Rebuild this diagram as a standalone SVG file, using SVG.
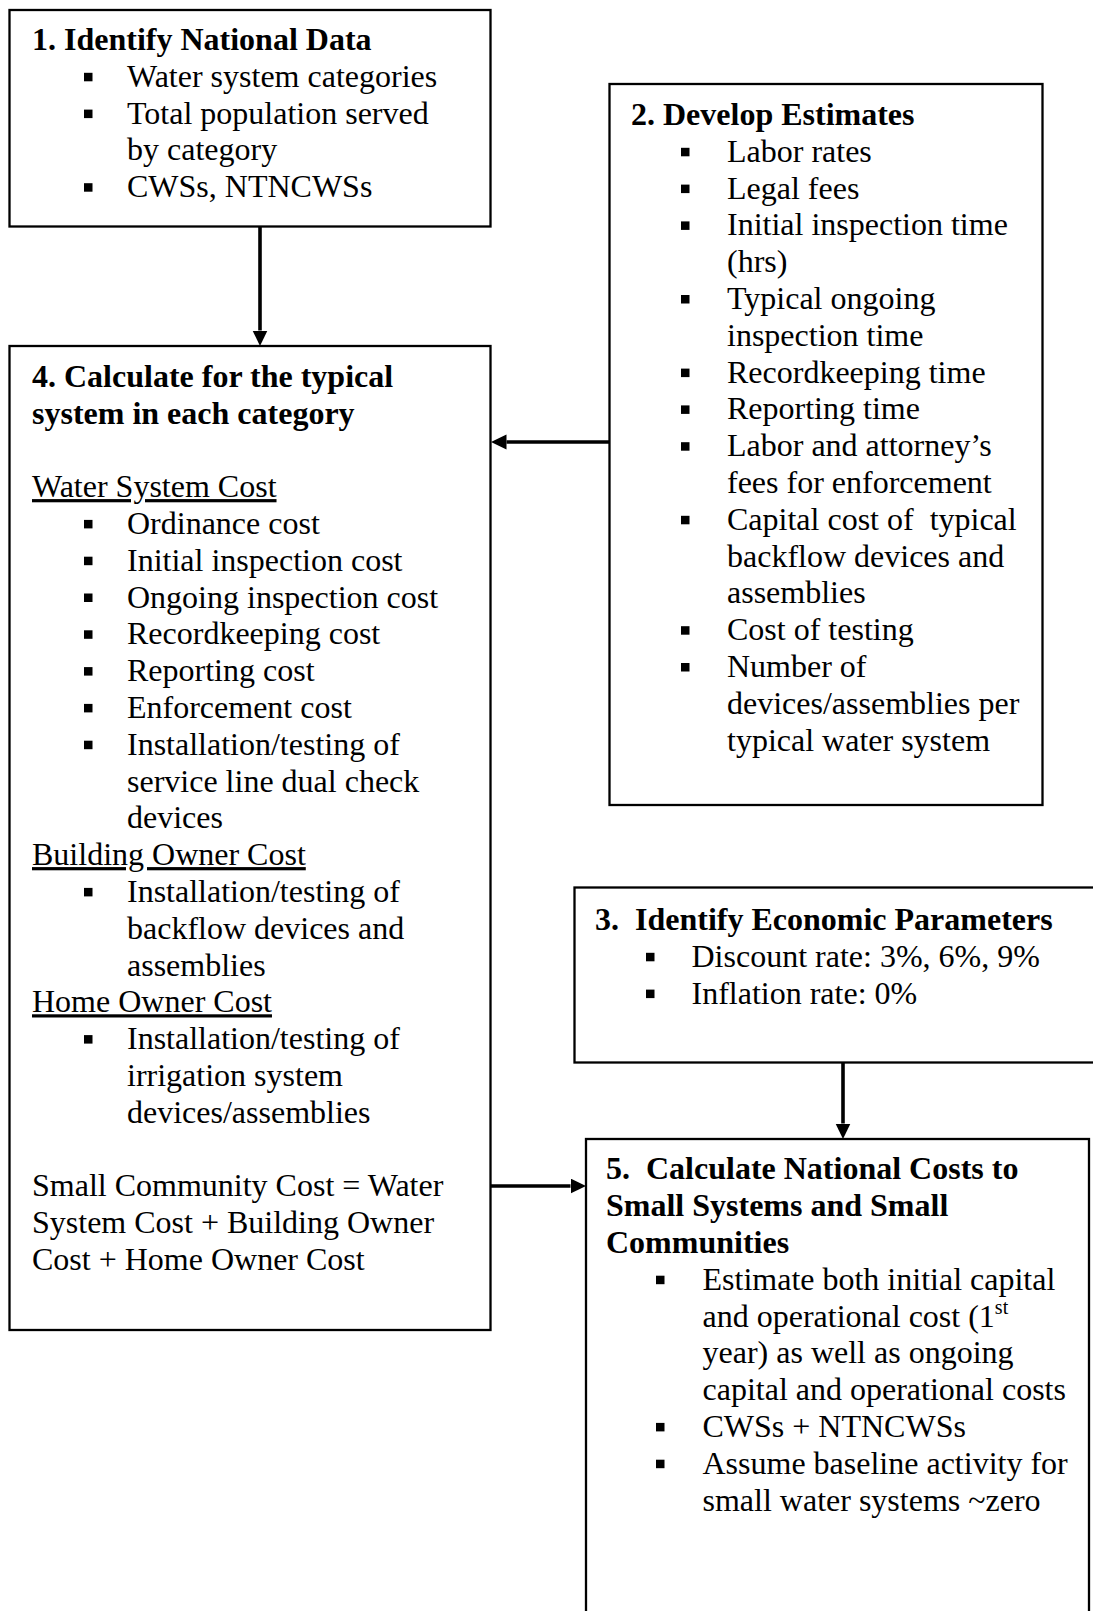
<svg xmlns="http://www.w3.org/2000/svg" width="1093" height="1611" viewBox="0 0 1093 1611">
<style>
text{font-family:"Liberation Serif","Times New Roman",serif;font-size:32px;fill:#000;white-space:pre}
.b{font-weight:bold}
.u{text-decoration:underline}
.box{fill:#fff;stroke:#000;stroke-width:2.3}
.conn{stroke:#000;stroke-width:3.6;fill:none}
</style>
<defs>
<marker id="ah" markerUnits="userSpaceOnUse" markerWidth="16" markerHeight="16" refX="0" refY="7.5" orient="auto">
<path d="M0,0 L15.5,7.5 L0,15 z" fill="#000"/>
</marker>
<symbol id="sq" overflow="visible"><rect x="0" y="-14" width="8.5" height="8.5"/></symbol>
</defs>
<rect width="1093" height="1611" fill="#fff"/>

<g id="connectors">
<line class="conn" x1="260" y1="227" x2="260" y2="330.5" marker-end="url(#ah)"/>
<line class="conn" x1="609" y1="442" x2="506.5" y2="442" marker-end="url(#ah)"/>
<line class="conn" x1="843" y1="1063" x2="843" y2="1123.5" marker-end="url(#ah)"/>
<line class="conn" x1="491" y1="1186" x2="570.5" y2="1186" marker-end="url(#ah)"/>
</g>

<g id="node1">
<rect class="box" x="9.5" y="10" width="481" height="216.5"/>
<text class="b" x="32" y="50">1. Identify National Data</text>
<use href="#sq" x="84" y="86.8"/><text x="127" y="86.8">Water system categories</text>
<use href="#sq" x="84" y="123.6"/><text x="127" y="123.6">Total population served</text>
<text x="127" y="160.4">by category</text>
<use href="#sq" x="84" y="197.2"/><text x="127" y="197.2">CWSs, NTNCWSs</text>
</g>

<g id="node2">
<rect class="box" x="609.5" y="84" width="433" height="721"/>
<text class="b" x="631" y="125">2. Develop Estimates</text>
<use href="#sq" x="681" y="161.8"/><text x="727" y="161.8">Labor rates</text>
<use href="#sq" x="681" y="198.6"/><text x="727" y="198.6">Legal fees</text>
<use href="#sq" x="681" y="235.4"/><text x="727" y="235.4">Initial inspection time</text>
<text x="727" y="272.2">(hrs)</text>
<use href="#sq" x="681" y="309"/><text x="727" y="309">Typical ongoing</text>
<text x="727" y="345.8">inspection time</text>
<use href="#sq" x="681" y="382.6"/><text x="727" y="382.6">Recordkeeping time</text>
<use href="#sq" x="681" y="419.4"/><text x="727" y="419.4">Reporting time</text>
<use href="#sq" x="681" y="456.2"/><text x="727" y="456.2">Labor and attorney’s</text>
<text x="727" y="493">fees for enforcement</text>
<use href="#sq" x="681" y="529.8"/><text x="727" y="529.8">Capital cost of  typical</text>
<text x="727" y="566.6">backflow devices and</text>
<text x="727" y="603.4">assemblies</text>
<use href="#sq" x="681" y="640.2"/><text x="727" y="640.2">Cost of testing</text>
<use href="#sq" x="681" y="677"/><text x="727" y="677">Number of</text>
<text x="727" y="713.8">devices/assemblies per</text>
<text x="727" y="750.6">typical water system</text>
</g>

<g id="node3">
<rect class="box" x="574.5" y="887.5" width="540" height="175"/>
<text class="b" x="595" y="930">3.  Identify Economic Parameters</text>
<use href="#sq" x="646" y="966.8"/><text x="691.5" y="966.8">Discount rate: 3%, 6%, 9%</text>
<use href="#sq" x="646" y="1003.6"/><text x="691.5" y="1003.6">Inflation rate: 0%</text>
</g>

<g id="node4">
<rect class="box" x="9.5" y="346" width="481" height="984"/>
<text class="b" x="32" y="386.7">4. Calculate for the typical</text>
<text class="b" x="32" y="423.5">system in each category</text>
<text class="u" x="32" y="497.1">Water System Cost</text>
<use href="#sq" x="84" y="533.9"/><text x="127" y="533.9">Ordinance cost</text>
<use href="#sq" x="84" y="570.7"/><text x="127" y="570.7">Initial inspection cost</text>
<use href="#sq" x="84" y="607.5"/><text x="127" y="607.5">Ongoing inspection cost</text>
<use href="#sq" x="84" y="644.3"/><text x="127" y="644.3">Recordkeeping cost</text>
<use href="#sq" x="84" y="681.1"/><text x="127" y="681.1">Reporting cost</text>
<use href="#sq" x="84" y="717.9"/><text x="127" y="717.9">Enforcement cost</text>
<use href="#sq" x="84" y="754.7"/><text x="127" y="754.7">Installation/testing of</text>
<text x="127" y="791.5">service line dual check</text>
<text x="127" y="828.3">devices</text>
<text class="u" x="32" y="865.1">Building Owner Cost</text>
<use href="#sq" x="84" y="901.9"/><text x="127" y="901.9">Installation/testing of</text>
<text x="127" y="938.7">backflow devices and</text>
<text x="127" y="975.5">assemblies</text>
<text class="u" x="32" y="1012.3">Home Owner Cost</text>
<use href="#sq" x="84" y="1049.1"/><text x="127" y="1049.1">Installation/testing of</text>
<text x="127" y="1085.9">irrigation system</text>
<text x="127" y="1122.7">devices/assemblies</text>
<text x="32" y="1196.3">Small Community Cost = Water</text>
<text x="32" y="1233.1">System Cost + Building Owner</text>
<text x="32" y="1269.9">Cost + Home Owner Cost</text>
</g>

<g id="node5">
<rect class="box" x="586" y="1139" width="503" height="490"/>
<text class="b" x="606" y="1179.3">5.  Calculate National Costs to</text>
<text class="b" x="606" y="1216.1">Small Systems and Small</text>
<text class="b" x="606" y="1252.9">Communities</text>
<use href="#sq" x="656" y="1289.7"/><text x="702.5" y="1289.7">Estimate both initial capital</text>
<text x="702.5" y="1326.5">and operational cost (1<tspan font-size="20" dy="-13">st</tspan></text>
<text x="702.5" y="1363.3">year) as well as ongoing</text>
<text x="702.5" y="1400.1">capital and operational costs</text>
<use href="#sq" x="656" y="1436.9"/><text x="702.5" y="1436.9">CWSs + NTNCWSs</text>
<use href="#sq" x="656" y="1473.7"/><text x="702.5" y="1473.7">Assume baseline activity for</text>
<text x="702.5" y="1510.5">small water systems ~zero</text>
</g>
</svg>
